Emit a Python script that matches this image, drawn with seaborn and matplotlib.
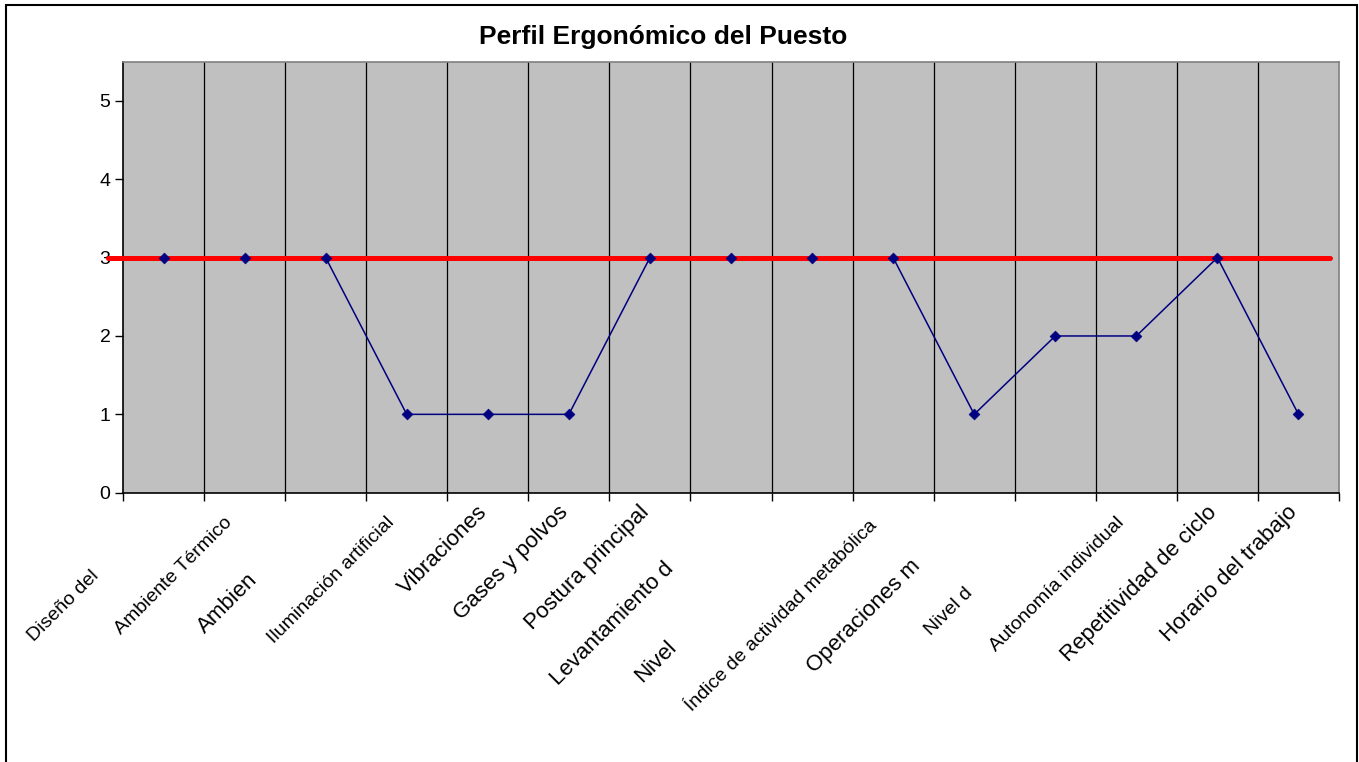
import numpy as np
import pandas as pd
import matplotlib
matplotlib.use("Agg")
import matplotlib.pyplot as plt
import matplotlib.transforms as mtransforms
from matplotlib.patches import Rectangle
import seaborn as sns

# ---- data ----
categorias = ["Diseño del", "Ambiente Térmico", "Ambien", "Iluminación artificial",
              "Vibraciones", "Gases y polvos", "Postura principal", "Levantamiento d",
              "Nivel", "Índice de actividad metabólica", "Operaciones m", "Nivel d",
              "Autonomía individual", "Repetitividad de ciclo", "Horario del trabajo"]
valores = [3, 3, 3, 1, 1, 1, 3, 3, 3, 3, 1, 2, 2, 3, 1]
limite = 3
yticks = [0, 1, 2, 3, 4, 5]
titulo = "Perfil Ergonómico del Puesto"

# style (not data)
label_small = [True, True, False, True, False, False, False, False, False, True, False, True, True, False, False]
label_shift = [90, 15, 95, 15, 0, 0, 0, 80, 190, 20, 75, 115, 15, 0, 0]

sns.set_theme(style="white")
plt.rcParams['font.family'] = ['Liberation Sans', 'DejaVu Sans']
plt.rcParams['text.color'] = 'black'
plt.rcParams['xtick.color'] = 'black'
plt.rcParams['ytick.color'] = 'black'

W, H, DPI = 1359, 762, 100
fig = plt.figure(figsize=(W / DPI, H / DPI), dpi=DPI)
ax = fig.add_axes([123 / W, 1 - 492.7 / H, 1216 / W, (492.7 - 61.7) / H])
ax.set_facecolor("#C0C0C0")

n = len(categorias)
df = pd.DataFrame({"idx": np.arange(n), "valor": valores})

# vertical separators
for b in np.arange(0.5, n - 0.5, 1.0):
    ax.axvline(b, color="black", lw=0.9, zorder=1)

# profile line
sns.lineplot(data=df, x="idx", y="valor", ax=ax, sort=False, color="#000080",
             lw=1.1, zorder=3)

# red limit line
ax.axhline(limite, xmin=-0.0123, xmax=0.9926, color="#FF0000", lw=3.6, clip_on=False, zorder=4)

# markers on top
sns.scatterplot(data=df, x="idx", y="valor", ax=ax, color="#000080", marker="D",
                s=30, edgecolor="#000080", linewidth=0.5, zorder=5)

ax.set_xlim(-0.5, n - 0.5)
ax.set_ylim(0, 5.5)
ax.set_xlabel("")
ax.set_ylabel("")

# y axis
ax.set_yticks(yticks)
ax.set_yticklabels([str(v) for v in yticks], fontsize=14, color="black")
ax.tick_params(axis="y", direction="out", length=6, width=1, color="black", pad=3, left=True)

# x axis: major ticks at boundaries, labels at centers (minor)
ax.set_xticks(np.arange(-0.5, n, 1.0))
ax.set_xticklabels([])
ax.tick_params(axis="x", which="major", direction="out", length=6, width=1, color="black", bottom=True)
ax.set_xticks(np.arange(n), minor=True)
ax.set_xticklabels(categorias, minor=True)
ax.tick_params(axis="x", which="minor", length=0, pad=12)

for lab, small, s in zip(ax.get_xticklabels(minor=True), label_small, label_shift):
    lab.set_rotation(45)
    lab.set_rotation_mode("anchor")
    lab.set_ha("right")
    lab.set_va("center")
    lab.set_color("black")
    lab.set_fontsize(14 if small else 16)
    d = s / np.sqrt(2) / DPI
    off = mtransforms.ScaledTranslation(-d - 4 / DPI, -d, fig.dpi_scale_trans)
    lab.set_transform(lab.get_transform() + off)

for side in ["left", "bottom"]:
    ax.spines[side].set_color("black")
    ax.spines[side].set_linewidth(1.2)
for side in ["top", "right"]:
    ax.spines[side].set_color("#808080")
    ax.spines[side].set_linewidth(1.2)

fig.text(663 / W, 1 - 37 / H, titulo, ha="center", va="center",
         fontsize=19, fontweight="bold", color="black")

# outer chart frame
fig.patches.append(Rectangle((6 / W, -0.05), (1357 - 6) / W, 1 - 5 / H + 0.05,
                             transform=fig.transFigure, fill=False, edgecolor="black",
                             lw=1.5, zorder=10))

fig.savefig("out.png", dpi=DPI)
